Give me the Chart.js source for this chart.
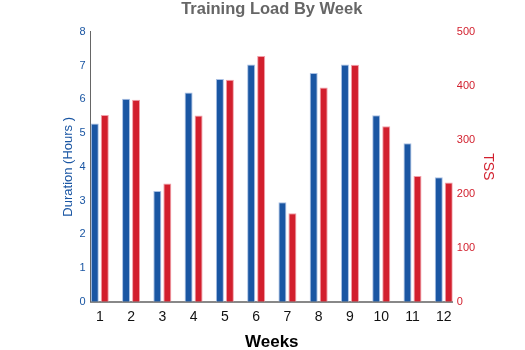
<!DOCTYPE html>
<html>
<head>
<meta charset="utf-8">
<script src="https://cdn.jsdelivr.net/npm/chart.js@4/dist/chart.umd.min.js"></script>
<style>
  html, body { margin: 0; padding: 0; background: #fff; }
  #wrap { width: 525px; height: 350px; }
</style>
</head>
<body>
<div id="wrap"><canvas id="loadChart"></canvas></div>
<script>
// data
const weeks = [1, 2, 3, 4, 5, 6, 7, 8, 9, 10, 11, 12];
const durationHours = [5.28, 6.02, 3.28, 6.2, 6.6, 7.03, 2.95, 6.78, 7.03, 5.53, 4.7, 3.69];
const tss = [346, 374, 219, 345, 411, 455, 164, 397, 439, 325, 233, 221];

const blue = '#1a56a3';
const red = '#d21f2d';

const ctx = document.getElementById('loadChart').getContext('2d');
const chart = new Chart(ctx, {
    type: 'bar',
    data: {
        datasets: [{
            label: 'Duration',
            data: weeks.map((w, i) => ({ x: w, y: durationHours[i] })),
            backgroundColor: blue,
            borderColor: 'rgba(160, 185, 225, 0.9)',
            borderWidth: 1,
            yAxisID: 'yHours',
            categoryPercentage: 0.64,
            barPercentage: 0.8
        }, {
            label: 'TSS',
            data: weeks.map((w, i) => ({ x: w, y: tss[i] })),
            backgroundColor: red,
            borderColor: 'rgba(240, 150, 160, 0.9)',
            borderWidth: 1,
            yAxisID: 'yTss',
            categoryPercentage: 0.64,
            barPercentage: 0.8
        }]
    },
    options: {
        responsive: true,
        maintainAspectRatio: false,
        animation: false,
        layout: { padding: { left: 61, right: 29, top: 0, bottom: 0 } },
        plugins: {
            legend: { display: false },
            tooltip: { enabled: false },
            title: {
                display: true,
                fullSize: false,
                text: 'Training Load By Week',
                color: '#666',
                font: { family: 'Liberation Sans', size: 16.5, weight: 'bold' },
                padding: { top: 0, bottom: 12 }
            }
        },
        scales: {
            x: {
                type: 'linear',
                offset: false,
                min: 0.71,
                max: 12.29,
                grid: { display: false, drawTicks: false },
                border: { color: '#888', width: 2 },
                ticks: {
                    stepSize: 1,
                    includeBounds: false,
                    color: '#111',
                    padding: 7,
                    font: { family: 'Liberation Sans', size: 14 }
                },
                title: {
                    display: true,
                    text: 'Weeks',
                    color: '#000',
                    padding: { top: 0, bottom: -3 },
                    font: { family: 'Liberation Sans', size: 17, weight: 'bold' }
                }
            },
            yHours: {
                position: 'left',
                min: 0,
                max: 8,
                grid: { display: false, drawTicks: false },
                border: { color: '#666', width: 1 },
                ticks: {
                    stepSize: 1,
                    color: blue,
                    padding: 5,
                    font: { family: 'Liberation Sans', size: 11 }
                },
                title: {
                    display: true,
                    text: 'Duration (Hours )',
                    color: blue,
                    padding: { top: 0, bottom: -2 },
                    font: { family: 'Liberation Sans', size: 13 }
                }
            },
            yTss: {
                position: 'right',
                min: 0,
                max: 500,
                grid: { display: false, drawTicks: false },
                border: { display: false },
                ticks: {
                    stepSize: 100,
                    color: red,
                    padding: 4,
                    font: { family: 'Liberation Sans', size: 11 }
                },
                title: {
                    display: true,
                    text: 'TSS',
                    color: red,
                    padding: { top: 0, bottom: 0 },
                    font: { family: 'Liberation Sans', size: 14 }
                }
            }
        }
    }
});
</script>
</body>
</html>
